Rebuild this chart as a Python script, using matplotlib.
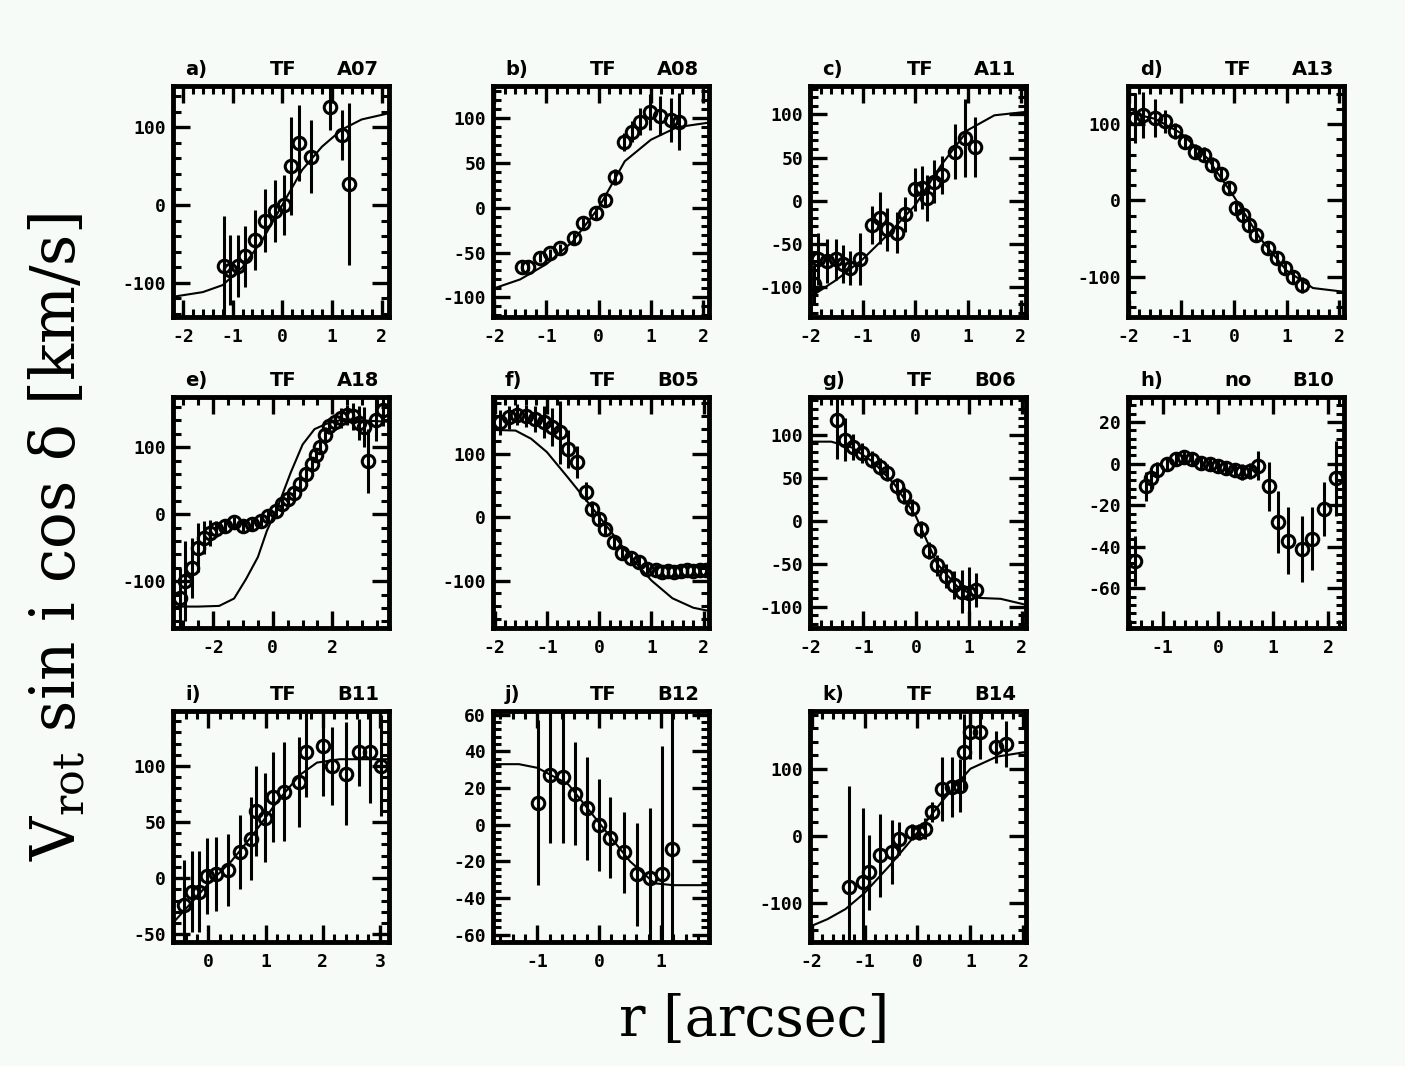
import matplotlib
matplotlib.use("Agg")
import matplotlib.pyplot as plt
from matplotlib.ticker import MultipleLocator, FuncFormatter

# ---- data (r in arcsec, velocity in km/s) ----
a_x = [-1.17, -1.05, -0.9, -0.74, -0.55, -0.35, -0.15, 0.03, 0.18, 0.33, 0.58, 0.97, 1.2, 1.34]
a_y = [-79, -84, -78, -66, -45, -20, -8, 0, 50, 80, 62, 126, 90, 27]
a_err = [65, 45, 40, 39, 39, 41, 40, 39, 63, 49, 47, 30, 32, 104]
a_fit_x = [-2.2, -1.6, -1.2, -0.8, -0.4, 0.0, 0.4, 0.8, 1.2, 1.6, 2.15]
a_fit_y = [-118, -112, -103, -80, -45, 0, 45, 75, 97, 110, 118]

b_x = [-1.47, -1.35, -1.12, -0.93, -0.74, -0.48, -0.29, -0.06, 0.13, 0.32, 0.48, 0.64, 0.8, 0.99, 1.18, 1.38, 1.53]
b_y = [-66, -66, -56, -51, -45, -34, -17, -6, 9, 34, 73, 85, 96, 107, 103, 98, 96]
b_err = [5, 5, 5, 5, 5, 6, 6, 6, 7, 9, 10, 12, 15, 20, 22, 25, 32]
b_fit_x = [-2.0, -1.5, -1.0, -0.5, 0.0, 0.5, 1.0, 1.5, 2.1]
b_fit_y = [-90, -80, -63, -38, 0, 52, 76, 90, 95]

c_x = [-1.93, -1.85, -1.68, -1.5, -1.38, -1.25, -1.05, -0.83, -0.67, -0.54, -0.35, -0.2, 0.0, 0.13, 0.23, 0.35, 0.5, 0.75, 0.95, 1.14]
c_y = [-97, -68, -70, -68, -73, -78, -68, -28, -20, -33, -37, -16, 13, 15, 3, 22, 30, 57, 73, 62]
c_err = [22, 30, 25, 24, 22, 20, 30, 22, 30, 25, 24, 20, 25, 25, 27, 25, 22, 32, 45, 35]
c_fit_x = [-2.0, -1.5, -1.0, -0.5, 0.0, 0.5, 1.0, 1.5, 2.1]
c_fit_y = [-112, -92, -68, -38, -5, 42, 82, 99, 103]

d_x = [-1.88, -1.72, -1.5, -1.31, -1.12, -0.92, -0.73, -0.57, -0.41, -0.25, -0.09, 0.04, 0.17, 0.29, 0.42, 0.65, 0.81, 0.97, 1.13, 1.29]
d_y = [108, 112, 108, 104, 91, 77, 64, 60, 47, 34, 16, -10, -19, -32, -45, -63, -76, -89, -100, -111]
d_err = [33, 30, 25, 15, 10, 10, 10, 10, 10, 8, 8, 8, 8, 8, 8, 8, 8, 8, 8, 10]
d_fit_x = [-2.0, -1.5, -1.0, -0.5, 0.0, 0.5, 1.0, 1.5, 2.1]
d_fit_y = [115, 107, 88, 55, 5, -50, -92, -115, -120]

e_x = [-3.1, -2.95, -2.7, -2.5, -2.3, -2.1, -1.9, -1.6, -1.3, -1.0, -0.7, -0.4, -0.15, 0.1, 0.3, 0.5,
       0.7, 0.9, 1.1, 1.3, 1.45, 1.6, 1.75, 1.9, 2.1, 2.3, 2.5, 2.7, 2.9, 3.05, 3.2, 3.45, 3.7]
e_y = [-125, -100, -80, -50, -35, -28, -22, -17, -12, -17, -15, -10, -3, 5, 15, 22,
       32, 45, 60, 75, 88, 100, 118, 131, 138, 143, 148, 146, 136, 130, 79, 141, 156]
e_err = [45, 60, 45, 37, 25, 20, 12, 10, 8, 8, 8, 8, 8, 8, 8, 8,
         8, 10, 10, 10, 10, 10, 12, 12, 12, 15, 15, 20, 25, 30, 48, 32, 25]
e_fit_x = [-3.35, -2.5, -1.8, -1.3, -0.9, -0.5, -0.2, 0.2, 0.6, 1.0, 1.4, 1.8, 2.4, 3.0, 3.9]
e_fit_y = [-138, -138, -137, -126, -97, -64, -25, 15, 62, 104, 127, 135, 142, 140, 138]

f_x = [-1.89, -1.73, -1.57, -1.4, -1.22, -1.06, -0.9, -0.75, -0.59, -0.43, -0.26, -0.14, -0.01, 0.12,
       0.28, 0.44, 0.6, 0.76, 0.92, 1.08, 1.2, 1.32, 1.44, 1.56, 1.68, 1.8, 1.92, 2.04]
f_y = [150, 158, 162, 160, 155, 150, 142, 134, 108, 87, 40, 13, -2, -18,
       -39, -57, -65, -70, -81, -84, -86, -85, -86, -85, -84, -85, -84, -83]
f_err = [20, 18, 17, 18, 20, 25, 30, 50, 30, 25, 15, 12, 10, 10,
         10, 8, 8, 8, 8, 8, 8, 8, 8, 8, 8, 8, 8, 8]
f_fit_x = [-2.03, -1.6, -1.3, -1.0, -0.6, -0.2, 0.2, 0.6, 1.0, 1.4, 1.8, 2.1]
f_fit_y = [138, 137, 124, 103, 63, 22, -20, -63, -100, -128, -143, -148]

g_x = [-1.49, -1.34, -1.18, -1.02, -0.83, -0.67, -0.55, -0.36, -0.23, -0.07, 0.09, 0.24, 0.4, 0.56, 0.72, 0.87, 1.0, 1.13]
g_y = [117, 94, 86, 79, 71, 63, 56, 40, 29, 15, -10, -35, -52, -64, -75, -83, -84, -81]
g_err = [45, 25, 15, 12, 10, 10, 10, 10, 10, 10, 10, 10, 12, 14, 16, 25, 30, 20]
g_fit_x = [-2.0, -1.6, -1.2, -0.8, -0.4, 0.0, 0.4, 0.8, 1.2, 1.6, 2.08]
g_fit_y = [92, 92, 85, 68, 42, 5, -50, -78, -90, -91, -98]

h_x = [-1.5, -1.31, -1.22, -1.1, -0.92, -0.76, -0.61, -0.46, -0.31, -0.15, 0.0, 0.15, 0.31, 0.43,
       0.58, 0.73, 0.92, 1.1, 1.28, 1.53, 1.71, 1.93, 2.14]
h_y = [-47, -11, -7, -3, 0, 2, 3, 2, 0.5, 0, -1, -2, -3, -4,
       -3.5, -1, -11, -28, -37, -41, -36, -22, -7]
h_err = [12, 7, 5, 4, 3, 3, 3, 3, 3, 3, 3, 3, 3, 4,
         4, 7, 12, 15, 16, 16, 15, 13, 18]

i_x = [-0.43, -0.29, -0.17, -0.03, 0.14, 0.35, 0.55, 0.75, 0.84, 0.99, 1.13, 1.33, 1.59, 1.71, 2.0, 2.17, 2.41, 2.64, 2.82, 3.02]
i_y = [-24, -12, -12, 2, 4, 7, 23, 35, 60, 54, 72, 77, 86, 112, 118, 100, 93, 112, 112, 100]
i_err = [40, 36, 36, 34, 33, 32, 33, 37, 40, 40, 40, 44, 40, 40, 45, 35, 46, 30, 45, 45]
i_fit_x = [-0.62, -0.3, 0.0, 0.4, 0.8, 1.2, 1.6, 1.9, 2.3, 2.7, 3.16]
i_fit_y = [-40, -22, -5, 15, 40, 68, 92, 103, 106, 106, 106]

j_x = [-0.99, -0.8, -0.58, -0.39, -0.2, 0.0, 0.18, 0.4, 0.61, 0.83, 1.02, 1.18]
j_y = [12, 27, 26, 17, 9, 0, -7, -15, -27, -29, -27, -13]
j_err = [45, 37, 36, 28, 28, 25, 22, 22, 28, 38, 70, 75]
j_fit_x = [-1.72, -1.3, -1.0, -0.5, 0.0, 0.5, 0.9, 1.2, 1.78]
j_fit_y = [33, 33, 31, 22, 1, -20, -32, -33, -33]

k_x = [-1.3, -1.02, -0.92, -0.7, -0.48, -0.35, -0.1, 0.02, 0.15, 0.28, 0.47, 0.66, 0.81, 0.88, 1.0, 1.19, 1.48, 1.67]
k_y = [-76, -69, -54, -29, -24, -4, 6, 6, 11, 36, 70, 73, 75, 125, 155, 155, 132, 137]
k_err = [150, 110, 56, 62, 48, 25, 12, 12, 15, 15, 48, 45, 40, 57, 40, 41, 24, 34]
k_fit_x = [-2.03, -1.7, -1.36, -1.0, -0.5, 0.0, 0.5, 1.0, 1.5, 2.05]
k_fit_y = [-135, -124, -109, -85, -42, 5, 55, 100, 118, 125]

panel_tags = ["a)", "b)", "c)", "d)", "e)", "f)", "g)", "h)", "i)", "j)", "k)"]
panel_kind = ["TF", "TF", "TF", "TF", "TF", "TF", "TF", "no", "TF", "TF", "TF"]
panel_names = ["A07", "A08", "A11", "A13", "A18", "B05", "B06", "B10", "B11", "B12", "B14"]

panels = [
    (a_x, a_y, a_err, a_fit_x, a_fit_y),
    (b_x, b_y, b_err, b_fit_x, b_fit_y),
    (c_x, c_y, c_err, c_fit_x, c_fit_y),
    (d_x, d_y, d_err, d_fit_x, d_fit_y),
    (e_x, e_y, e_err, e_fit_x, e_fit_y),
    (f_x, f_y, f_err, f_fit_x, f_fit_y),
    (g_x, g_y, g_err, g_fit_x, g_fit_y),
    (h_x, h_y, h_err, None, None),
    (i_x, i_y, i_err, i_fit_x, i_fit_y),
    (j_x, j_y, j_err, j_fit_x, j_fit_y),
    (k_x, k_y, k_err, k_fit_x, k_fit_y),
]

# axis limits and tick steps: (xlim, ylim, x major, x minor, y major, y minor)
axis_setup = [
    ((-2.2, 2.15), (-144, 153), 1, 0.2, 100, 20),
    ((-2.02, 2.11), (-122, 136), 1, 0.2, 50, 10),
    ((-2.0, 2.1), (-135, 133), 1, 0.2, 50, 10),
    ((-2.01, 2.09), (-153, 150), 1, 0.2, 100, 20),
    ((-3.35, 3.9), (-170, 175), 2, 0.5, 100, 20),
    ((-2.03, 2.1), (-175, 190), 1, 0.2, 100, 20),
    ((-2.0, 2.08), (-125, 144), 1, 0.2, 50, 10),
    ((-1.63, 2.29), (-79, 32), 1, 0.2, 20, 4),
    ((-0.62, 3.16), (-57, 149), 1, 0.2, 50, 10),
    ((-1.72, 1.78), (-64, 62), 1, 0.2, 20, 4),
    ((-2.03, 2.05), (-158, 186), 1, 0.2, 100, 20),
]

plt.rcParams["axes.unicode_minus"] = False
plt.rcParams["mathtext.fontset"] = "dejavuserif"

bg = "#f7fbf7"
W, H = 1405, 1066
fig = plt.figure(figsize=(W / 100, H / 100), dpi=100, facecolor=bg)

col_left = [173, 493, 810, 1128]
row_top = [86, 397, 711]
ax_w, ax_h = 216, 231

title_font = dict(family="DejaVu Sans", weight="bold", size=14)
fmt = FuncFormatter(lambda v, pos: f"{v:g}")

for n, (data, setup) in enumerate(zip(panels, axis_setup)):
    row, col = divmod(n, 4)
    left = col_left[col] / W
    bottom = 1 - (row_top[row] + ax_h) / H
    ax = fig.add_axes([left, bottom, ax_w / W, ax_h / H], facecolor=bg)

    x, y, err, fx, fy = data
    xlim, ylim, xmaj, xmin, ymaj, ymin = setup

    if fx is not None:
        ax.plot(fx, fy, color="k", lw=1.5, zorder=2)
    ax.errorbar(x, y, yerr=err, fmt="o", ms=9, mfc="none", mec="k", mew=2.2,
                ecolor="k", elinewidth=2.2, capsize=0, zorder=3)

    ax.set_xlim(*xlim)
    ax.set_ylim(*ylim)
    ax.xaxis.set_major_locator(MultipleLocator(xmaj))
    ax.xaxis.set_minor_locator(MultipleLocator(xmin))
    ax.yaxis.set_major_locator(MultipleLocator(ymaj))
    ax.yaxis.set_minor_locator(MultipleLocator(ymin))
    ax.xaxis.set_major_formatter(fmt)
    ax.yaxis.set_major_formatter(fmt)

    ax.tick_params(which="both", direction="in", top=True, right=True, color="k")
    ax.tick_params(which="major", length=12, width=2.4)
    ax.tick_params(which="minor", length=6, width=2.2)
    ax.tick_params(axis="x", which="major", pad=8)
    ax.tick_params(axis="y", which="major", pad=5)
    for lab in ax.get_xticklabels() + ax.get_yticklabels():
        lab.set_fontfamily("DejaVu Sans Mono")
        lab.set_fontweight("bold")
        lab.set_fontsize(13)
    for sp in ax.spines.values():
        sp.set_linewidth(3.5)

    ax.text(0.055, 1.03, panel_tags[n], transform=ax.transAxes, ha="left", va="bottom", **title_font)
    ax.text(0.51, 1.03, panel_kind[n], transform=ax.transAxes, ha="center", va="bottom", **title_font)
    ax.text(0.955, 1.03, panel_names[n], transform=ax.transAxes, ha="right", va="bottom", **title_font)

fig.text(0.537, 0.043, "r [arcsec]", ha="center", va="center", family="DejaVu Serif", size=40)
fig.text(0.041, 0.496, r"V$_{\mathrm{rot}}$ sin i cos δ [km/s]", ha="center", va="center",
         rotation=90, family="DejaVu Serif", size=44)

fig.savefig("out.png", dpi=100, facecolor=bg)
